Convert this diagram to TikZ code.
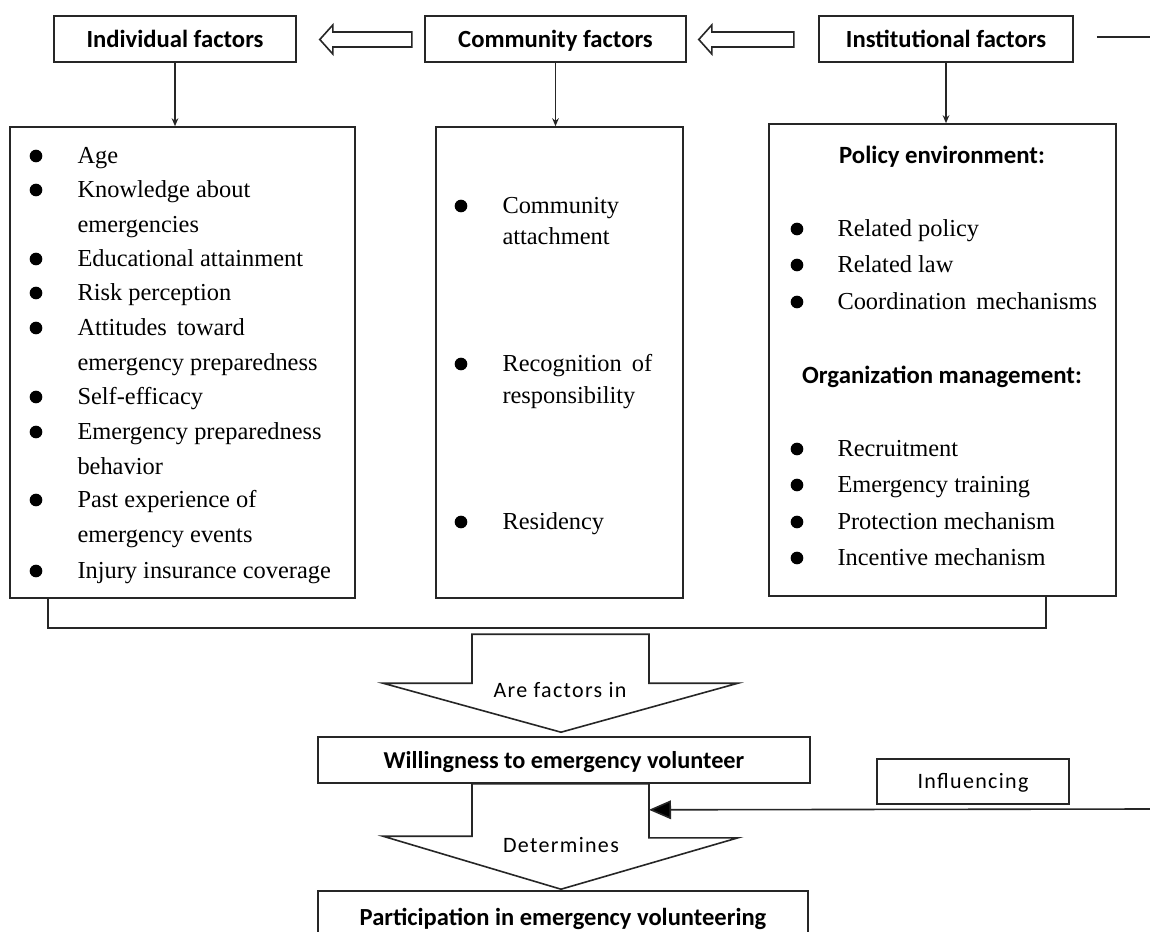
\documentclass[tikz,border=0pt]{standalone}
\usepackage{fontspec}
\setmainfont{Liberation Serif}
\newfontfamily\hdfont{Carlito}
\newfontfamily\lblfont[LetterSpace=6]{Carlito}
\usetikzlibrary{arrows.meta,calc}

\tikzset{every picture/.style={line width=0.75pt}}
\tikzset{
  hdbox/.style={draw=black!85, line width=1.2pt, inner sep=0pt, text height=12pt, text depth=0pt, font=\hdfont\bfseries\fontsize{18.5}{22}\selectfont},
  colbox/.style={draw=black!85, line width=1.2pt, inner sep=0pt},
  item/.style={anchor=base west, inner sep=0pt, font=\fontsize{18.3}{22}\selectfont},
  bul/.style={circle, fill=black, inner sep=0pt, minimum size=9.5pt},
  subhd/.style={inner sep=0pt, font=\hdfont\bfseries\fontsize{18.6}{22}\selectfont},
  lbl/.style={inner sep=0pt, font=\lblfont\fontsize{16.5}{19}\selectfont},
  hollow/.style={draw=black!85, line width=1.2pt, fill=white, line join=miter},
  link/.style={draw=black!85, line width=1.2pt},
}

\begin{document}
\begin{tikzpicture}[x=0.75pt,y=0.75pt,yscale=-1,xscale=1]
\fill[white] (0,0) rectangle (1150,932);
\useasboundingbox (0,0) rectangle (1150,932);
%Shape: Rectangle (headers)
\node[hdbox, minimum width=181.5pt, minimum height=34.5pt] (ind) at (175,39) {Individual factors};
\node[hdbox, minimum width=195.75pt, minimum height=34.5pt] (com) at (555.5,39) {Community factors};
\node[hdbox, minimum width=190.5pt, minimum height=34.5pt] (inst) at (946,39) {Institutional factors};
%Shape: Rectangle (columns)
\node[colbox, minimum width=258.75pt, minimum height=353.25pt] (lcol) at (182.5,362.5) {};
\node[colbox, minimum width=185.25pt, minimum height=353.25pt] (ccol) at (559.5,362.5) {};
\node[colbox, minimum width=260.25pt, minimum height=354pt] (rcol) at (942.5,360) {};
%Shape: Rectangle (outcomes)
\node[hdbox, minimum width=369pt, minimum height=34.5pt, font=\hdfont\bfseries\fontsize{18.2}{22}\selectfont] (will) at (564,760) {Willingness to emergency volunteer};
\node[hdbox, minimum width=367.5pt, minimum height=39pt, font=\hdfont\bfseries\fontsize{18.4}{22}\selectfont] (part) at (563,917) {Participation in emergency volunteering};
\node[colbox, minimum width=144pt, minimum height=33.75pt, text height=11pt, text depth=0pt, font=\lblfont\fontsize{16.5}{19}\selectfont] (infl) at (973,781.5) {Influencing};

%Block arrows between headers
\draw[hollow] ($(ind.east)+(23,0.5)$) -- ++(13,-14.5) -- ++(0,7) -- ++(79,0) -- ++(0,15) -- ++(-79,0) -- ++(0,7) -- cycle;
\draw[hollow] ($(com.east)+(12,0.5)$) -- ++(13,-14.5) -- ++(0,7) -- ++(82,0) -- ++(0,15) -- ++(-82,0) -- ++(0,7) -- cycle;
\coordinate (inT) at (1150,37);
\draw[link] ($(inst.east)+(23,-2)$) -- (inT);

%Straight Lines (headers to columns)
\draw[link, -{Stealth[length=6pt,width=5pt]}] (ind.south) -- (ind.south |- lcol.north);
\draw[link, -{Stealth[length=6pt,width=5pt]}] (com.south) -- (com.south |- ccol.north);
\draw[link, -{Stealth[length=6pt,width=5pt]}] (inst.south) -- (inst.south |- rcol.north);

% Text Node (individual factors)
\node[bul] (d1) at (36,156) {};  \node[item] (t1) at (77,163.5) {Age};
\node[bul] (d2) at (36,190) {};  \node[item] (t2) at (77,197.5) {Knowledge about};
                                 \node[item] (t2b) at (77,232.5) {emergencies};
\node[bul] (d3) at (36,259) {};  \node[item] (t3) at (77,266.5) {Educational attainment};
\node[bul] (d4) at (36,293) {};  \node[item] (t4) at (77,300.5) {Risk perception};
\node[bul] (d5) at (36,328) {};  \node[item] (t5) at (77,335.5) {Attitudes\hspace{3pt} toward};
                                 \node[item] (t5b) at (77,370.5) {emergency preparedness};
\node[bul] (d6) at (36,397) {};  \node[item] (t6) at (77,404.5) {Self-efficacy};
\node[bul] (d7) at (36,432) {};  \node[item] (t7) at (77,439.5) {Emergency preparedness};
                                 \node[item] (t7b) at (77,474.5) {behavior};
\node[bul] (d8) at (36,500) {};  \node[item] (t8) at (77,507.5) {Past experience of};
                                 \node[item] (t8b) at (77,542.5) {emergency events};
\node[bul] (d9) at (36,571) {};  \node[item] (t9) at (77,578.5) {Injury insurance coverage};

% Text Node (community factors)
\node[bul] (c1) at (461,206) {}; \node[item] (u1) at (502,213.5) {Community};
                                 \node[item] (u1b) at (502,244.5) {attachment};
\node[bul] (c2) at (461,364) {}; \node[item] (u2) at (502,371.5) {Recognition\hspace{3pt} of};
                                 \node[item] (u2b) at (502,403.5) {responsibility};
\node[bul] (c3) at (461,522) {}; \node[item] (u3) at (502,529.5) {Residency};

% Text Node (institutional factors)
\node[subhd] (pe) at (942,157) {Policy environment:};
\node[bul] (r1) at (797,229) {}; \node[item] (v1) at (837,236.5) {Related policy};
\node[bul] (r2) at (797,265) {}; \node[item] (v2) at (837,272.5) {Related law};
\node[bul] (r3) at (797,302) {}; \node[item] (v3) at (837,309.5) {Coordination\hspace{3pt} mechanisms};
\node[subhd] (om) at (942,377) {Organization management:};
\node[bul] (r4) at (797,449) {}; \node[item] (v4) at (837,456.5) {Recruitment};
\node[bul] (r5) at (797,485) {}; \node[item] (v5) at (837,492.5) {Emergency training};
\node[bul] (r6) at (797,522) {}; \node[item] (v6) at (837,529.5) {Protection mechanism};
\node[bul] (r7) at (797,558) {}; \node[item] (v7) at (837,565.5) {Incentive mechanism};

%Straight Lines (bracket under the columns)
\draw[link] ($(lcol.south west)+(39,0)$) -- ++(0,29) -| ($(rcol.south east)+(-71,0)$);

%Block arrows down
\draw[hollow] ($(will.north)+(-92,-102)$) -- ++(177,0) -- ++(0,49) -- ++(89,0) -- ($(will.north)+(-3,-4)$) -- ++(-178,-49) -- ++(89,0) -- cycle;
\draw[hollow] ($(will.south)+(-92,0)$) -- ++(177,0) -- ++(0,54) -- ++(89,0) -- ($(part.north)+(-2,-1)$) -- ++(-178,-53) -- ++(89,0) -- cycle;
\node[lbl] (lf) at (560,690) {Are factors in};
\node[lbl] (ld) at (561,845) {Determines};

%Straight Lines (influencing)
\coordinate (inR) at (1150,809);
\coordinate (shR) at ($(will.south)+(85,26)$);
\draw[link, -{Triangle[length=16.5pt,width=14pt,fill=black]}] (inR) -- (shR);
\end{tikzpicture}
\end{document}
